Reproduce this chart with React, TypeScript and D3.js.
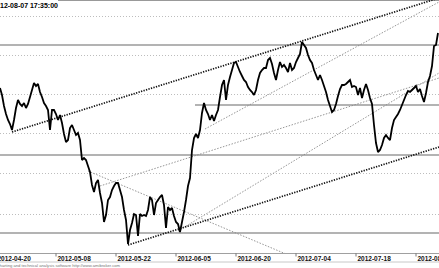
import React from "react";
import * as d3 from "d3";

const W = 439;
const H = 268;

// price series: 3 bars per trading day, first bar = trading day 2/3 after 2012-04-20
const prices: number[] = [
  4.228, 4.221, 4.210, 4.202, 4.196, 4.192, 4.186, 4.196, 4.208, 4.216,
  4.212, 4.210, 4.213, 4.208, 4.212, 4.219, 4.226, 4.233, 4.230, 4.232,
  4.224, 4.219, 4.213, 4.210, 4.206, 4.186, 4.206, 4.206, 4.202, 4.196,
  4.201, 4.193, 4.182, 4.174, 4.176, 4.188, 4.191, 4.186, 4.181, 4.183,
  4.176, 4.156, 4.158, 4.156, 4.150, 4.144, 4.131, 4.124, 4.133, 4.136,
  4.123, 4.113, 4.094, 4.101, 4.116, 4.119, 4.126, 4.130, 4.133, 4.133,
  4.126, 4.119, 4.106, 4.096, 4.072, 4.086, 4.093, 4.102, 4.101, 4.080,
  4.102, 4.100, 4.101, 4.100, 4.106, 4.119, 4.116, 4.101, 4.113, 4.116,
  4.119, 4.121, 4.111, 4.088, 4.109, 4.106, 4.108, 4.100, 4.094, 4.092,
  4.084, 4.094, 4.104, 4.116, 4.130, 4.138, 4.166, 4.178, 4.182, 4.178,
  4.186, 4.203, 4.213, 4.206, 4.202, 4.196, 4.201, 4.195, 4.201, 4.206,
  4.219, 4.231, 4.236, 4.216, 4.231, 4.239, 4.246, 4.253, 4.254, 4.249,
  4.244, 4.240, 4.236, 4.234, 4.229, 4.226, 4.224, 4.221, 4.226, 4.236,
  4.243, 4.246, 4.248, 4.248, 4.256, 4.258, 4.252, 4.243, 4.236, 4.246,
  4.254, 4.249, 4.251, 4.248, 4.244, 4.253, 4.246, 4.248, 4.254, 4.258,
  4.262, 4.274, 4.271, 4.268, 4.261, 4.256, 4.253, 4.246, 4.241, 4.236,
  4.241, 4.236, 4.230, 4.224, 4.216, 4.210, 4.204, 4.206, 4.212, 4.220,
  4.227, 4.231, 4.231, 4.232, 4.234, 4.236, 4.229, 4.230, 4.229, 4.221,
  4.228, 4.218, 4.226, 4.232, 4.226, 4.218, 4.212, 4.191, 4.173, 4.164,
  4.166, 4.171, 4.178, 4.181, 4.178, 4.176, 4.188, 4.196, 4.199, 4.202,
  4.206, 4.211, 4.216, 4.221, 4.225, 4.224, 4.226, 4.228, 4.230, 4.224,
  4.227, 4.220, 4.214, 4.223, 4.234, 4.240, 4.250, 4.270, 4.271, 4.283,
];

const barsPerDay = 3;
const firstBarDay = 2 / 3;

// date axis: labels every 10 trading days from 2012-04-20
const tickLabels = [
  "2012-04-20", "2012-05-08", "2012-05-22", "2012-06-05",
  "2012-06-20", "2012-07-04", "2012-07-18", "2012-08-01",
];
const tickDays = [0, 10, 20, 30, 40, 50, 60, 70];

// dotted grid levels
const gridLevels = [4.300, 4.261, 4.222, 4.183, 4.143, 4.102];

// solid horizontal study lines: price and start bar
const hLevels = [4.271, 4.211, 4.161, 4.083];
const hStarts = [0, 97.5, 0, 0];

// trend lines: [bar1, price1, bar2, price2]
const channelLines = [
  [6, 4.184, 219.5, 4.318],
  [64, 4.071, 219.5, 4.169],
];
const thinLines = [
  [50, 4.130, 219.5, 4.238],
  [89, 4.085, 219.5, 4.243],
  [102.5, 4.187, 219.5, 4.314],
  [44, 4.145, 143, 4.062],
];

const titleText = "2012-08-07 17:35:00";
const footerText = "charting and technical analysis software  http://www.amibroker.com";

export default function App() {
  const x = d3.scaleLinear().domain([0, 219]).range([0, 438]);
  const y = d3.scaleLinear().domain([4.048, 4.316]).range([268, 0]);
  const dayToBar = (d: number) => (d - firstBarDay) * barsPerDay;

  const line = d3
    .line<number>()
    .x((_, i) => x(i))
    .y((v) => y(v));

  const axisTop = 253.5;
  const axisBottom = 262;

  return (
    <svg
      width={W}
      height={H}
      style={{ position: "absolute", left: 0, top: 0, background: "#fff" }}
      fontFamily="'Liberation Sans', Arial, sans-serif"
    >
      <rect x={0} y={0} width={W} height={H} fill="#fff" />
      {/* top border */}
      <line x1={58} x2={W} y1={0.5} y2={0.5} stroke="#999" strokeWidth={1} />
      {/* grid */}
      {gridLevels.map((g, i) => (
        <line
          key={"g" + i}
          x1={0}
          x2={W}
          y1={Math.round(y(g)) + 0.5}
          y2={Math.round(y(g)) + 0.5}
          stroke="#bdbdbd"
          strokeWidth={1}
          strokeDasharray="1 2"
        />
      ))}
      {/* horizontal study lines */}
      {hLevels.map((h, i) => (
        <line
          key={"h" + i}
          x1={x(hStarts[i])}
          x2={W}
          y1={y(h)}
          y2={y(h)}
          stroke="#9a9a9a"
          strokeWidth={1.3}
        />
      ))}
      {/* thin dotted trend lines */}
      {thinLines.map((l, i) => (
        <line
          key={"t" + i}
          x1={x(l[0])}
          y1={y(l[1])}
          x2={x(l[2])}
          y2={y(l[3])}
          stroke="#8a8a8a"
          strokeWidth={0.9}
          strokeDasharray="1.5 1.5"
        />
      ))}
      {/* channel lines */}
      {channelLines.map((l, i) => (
        <line
          key={"c" + i}
          x1={x(l[0])}
          y1={y(l[1])}
          x2={x(l[2])}
          y2={y(l[3])}
          stroke="#111"
          strokeWidth={1.7}
          strokeDasharray="1.3 1.3"
        />
      ))}
      {/* price */}
      <path
        d={line(prices) || ""}
        fill="none"
        stroke="#000"
        strokeWidth={1.8}
        strokeLinejoin="miter"
        strokeMiterlimit={2}
      />
      {/* title */}
      <text x={58} y={7.5} fontSize={7} fontWeight="bold" textAnchor="end" fill="#000">
        {titleText}
      </text>
      {/* axis band */}
      <rect x={0} y={axisTop} width={W} height={axisBottom - axisTop} fill="#fff" />
      <line x1={0} x2={W} y1={axisTop} y2={axisTop} stroke="#a0a0a0" strokeWidth={1.2} />
      <line x1={0} x2={W} y1={axisBottom} y2={axisBottom} stroke="#c8c8c8" strokeWidth={1} />
      {tickDays.map((d, i) => {
        const tx = x(dayToBar(d));
        return (
          <g key={"tk" + i}>
            <line x1={tx} x2={tx} y1={axisTop} y2={axisTop + 3} stroke="#555" strokeWidth={0.8} />
            <text x={tx + 1.5} y={260.5} fontSize={6.5} fontWeight="bold" fill="#111">
              {tickLabels[i]}
            </text>
          </g>
        );
      })}
      <text
        x={-2.5}
        y={266.5}
        fontSize={4.2}
        fill="#777"
        textLength={122.5}
        lengthAdjust="spacingAndGlyphs"
      >
        {footerText}
      </text>
    </svg>
  );
}
